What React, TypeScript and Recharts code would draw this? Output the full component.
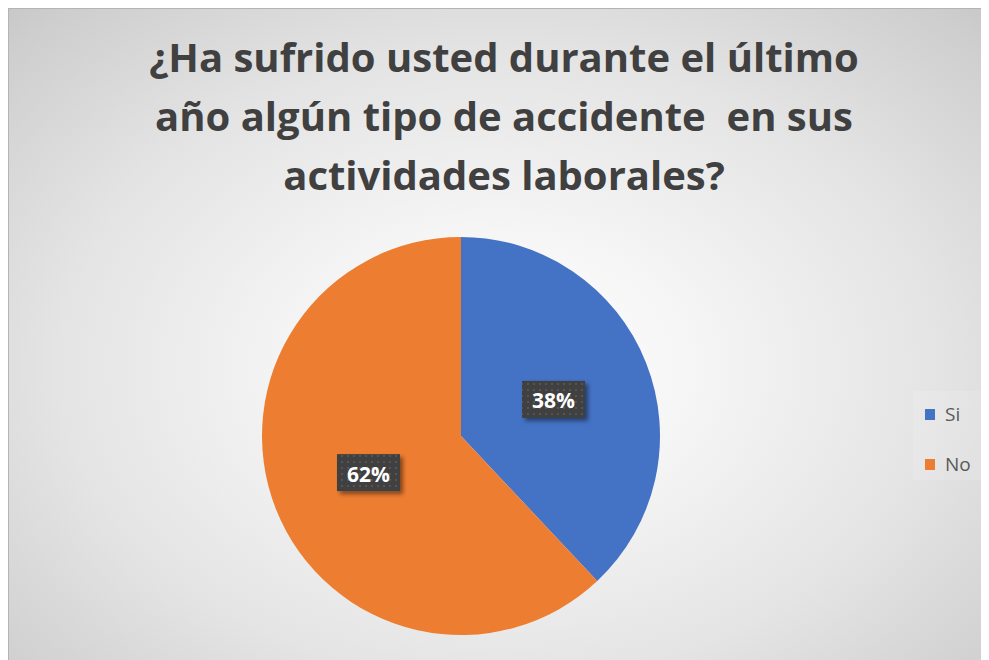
import React from 'react';
import { PieChart, Pie, Cell, Legend } from 'recharts';

const categories = ['Si', 'No'];
const values = [38, 62];
const colors = ['#4472C4', '#ED7D31'];
const titleLines = [
  '¿Ha sufrido usted durante el último',
  'año algún tipo de accidente  en sus',
  'actividades laborales?',
];

const data = categories.map((name, i) => ({ name, value: values[i] }));
const RADIAN = Math.PI / 180;

const renderLabel = (props: any) => {
  const { cx, cy, midAngle, outerRadius, percent } = props;
  const r = outerRadius * 0.5;
  const x = cx + r * Math.cos(-midAngle * RADIAN);
  const y = cy + r * Math.sin(-midAngle * RADIAN);
  const w = 63;
  const h = 37;
  return (
    <g>
      <rect x={x - w / 2} y={y - h / 2} width={w} height={h} fill="url(#dotPattern)" filter="url(#lblShadow)" />
      <text
        x={x}
        y={y + 1}
        textAnchor="middle"
        dominantBaseline="central"
        fill="#ffffff"
        fontFamily="'Open Sans', Lato, sans-serif"
        fontWeight={700}
        fontSize={21}
      >
        {`${Math.round(percent * 100)}%`}
      </text>
    </g>
  );
};

const renderLegend = () => {
  return (
    <div style={{ width: 69, height: 89, background: 'rgba(255,255,255,0.12)', position: 'relative' }}>
      {categories.map((name, i) => (
        <div
          key={name}
          style={{
            position: 'absolute',
            left: 12,
            top: 12 + i * 50,
            display: 'flex',
            alignItems: 'center',
            fontFamily: "'Open Sans', sans-serif",
            fontSize: 19,
            color: '#595959',
            lineHeight: '22px',
          }}
        >
          <span style={{ display: 'inline-block', width: 10, height: 11, background: colors[i], marginRight: 10 }} />
          <span>{name}</span>
        </div>
      ))}
    </div>
  );
};

export default function App() {
  return (
    <div
      style={{
        position: 'relative',
        width: 981,
        height: 653,
        boxSizing: 'border-box',
        borderLeft: '1px solid #b4b4b4',
        borderTop: '1px solid #b4b4b4',
        background:
          'radial-gradient(ellipse 75% 80% at 50% 55%, #ffffff 0%, #f6f6f6 25%, #e4e4e4 60%, #cecece 90%, #c4c4c4 100%)',
        overflow: 'hidden',
      }}
    >
      <div
        style={{
          position: 'absolute',
          left: 0,
          width: 990,
          top: 18,
          textAlign: 'center',
          fontFamily: "'Open Sans', sans-serif",
          fontWeight: 700,
          fontSize: 40,
          lineHeight: '59px',
          color: '#404040',
          whiteSpace: 'pre',
        }}
      >
        {titleLines.map((l) => (
          <div key={l}>{l}</div>
        ))}
      </div>
      <PieChart
        width={980}
        height={652}
        margin={{ top: 0, right: 0, bottom: 0, left: 0 }}
        style={{ position: 'absolute', left: 0, top: 0 }}
      >
        <defs>
          <pattern id="dotPattern" x="0" y="0" width="6" height="6" patternUnits="userSpaceOnUse">
            <rect x="0" y="0" width="6" height="6" fill="#404040" />
            <rect x="2" y="2" width="2" height="2" fill="#555555" />
          </pattern>
          <filter id="lblShadow" x="-20%" y="-20%" width="150%" height="160%">
            <feDropShadow dx="3" dy="3" stdDeviation="2" floodColor="#000000" floodOpacity="0.45" />
          </filter>
        </defs>
        <Pie
          data={data}
          dataKey="value"
          nameKey="name"
          cx={452}
          cy={427}
          outerRadius={199}
          startAngle={90}
          endAngle={-270}
          stroke="none"
          label={renderLabel}
          labelLine={false}
          isAnimationActive={false}
        >
          {data.map((d, i) => (
            <Cell key={d.name} fill={colors[i]} />
          ))}
        </Pie>
        <Legend
          content={renderLegend}
          wrapperStyle={{ position: 'absolute', left: 904, top: 382, width: 69, height: 89 }}
        />
      </PieChart>
    </div>
  );
}
